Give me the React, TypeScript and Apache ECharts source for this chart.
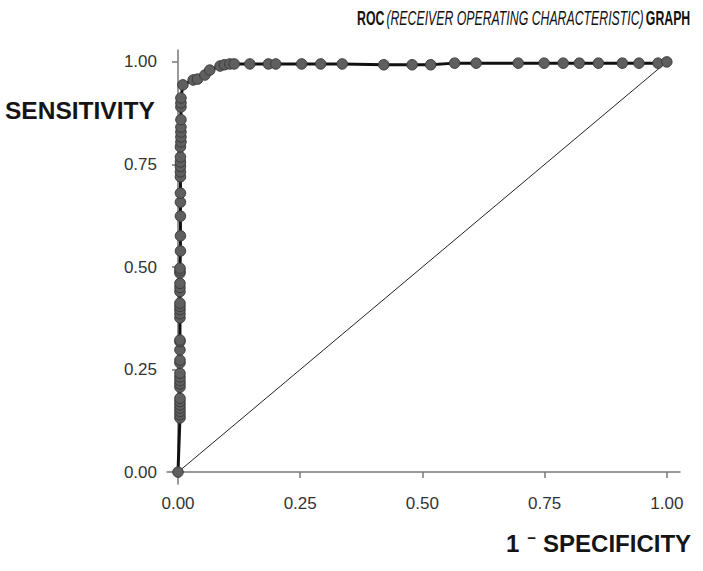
import React, { useEffect, useRef } from "react";
import * as echarts from "echarts";

const tickValues = [0, 0.25, 0.5, 0.75, 1];

const fpr = [
  0, 0.004, 0.004, 0.004, 0.004, 0.004, 0.004, 0.004, 0.004, 0.004, 0.004, 0.004, 0.004,
  0.004, 0.004, 0.004, 0.004, 0.004, 0.004, 0.004, 0.004, 0.004, 0.004, 0.004, 0.004,
  0.004, 0.004, 0.004, 0.004, 0.005, 0.005, 0.005, 0.005, 0.005, 0.005, 0.005, 0.005,
  0.005, 0.005, 0.005, 0.006, 0.006, 0.006, 0.006, 0.006, 0.006, 0.006, 0.006, 0.01,
  0.031, 0.04, 0.055, 0.065, 0.086, 0.095, 0.106, 0.115, 0.147, 0.185, 0.2, 0.253,
  0.292, 0.336, 0.421, 0.479, 0.517, 0.566, 0.61, 0.696, 0.749, 0.788, 0.821, 0.86,
  0.909, 0.943, 0.982, 1.0,
];
const tpr = [
  0, 0.132, 0.14, 0.148, 0.156, 0.164, 0.172, 0.18, 0.207, 0.215, 0.223, 0.232, 0.241,
  0.266, 0.273, 0.298, 0.318, 0.322, 0.376, 0.386, 0.396, 0.404, 0.412, 0.44, 0.45,
  0.46, 0.485, 0.491, 0.497, 0.539, 0.576, 0.624, 0.658, 0.68, 0.72, 0.732, 0.745,
  0.756, 0.768, 0.793, 0.805, 0.817, 0.829, 0.841, 0.859, 0.89, 0.9, 0.912, 0.944,
  0.956, 0.958, 0.968, 0.98, 0.99, 0.993, 0.995, 0.995, 0.995, 0.995, 0.995, 0.995,
  0.995, 0.995, 0.993, 0.993, 0.993, 0.997, 0.997, 0.997, 0.997, 0.997, 0.997, 0.997,
  0.997, 0.997, 0.997, 1.0,
];
const diagonal = [
  [0, 0],
  [1, 1],
];

export default function App() {
  const ref = useRef<HTMLDivElement>(null);
  useEffect(() => {
    document.body.style.margin = "0";
    if (!ref.current) return;
    const chart = echarts.init(ref.current, null, { renderer: "svg" });
    const font = "'Liberation Sans', Arial, sans-serif";
    const axisCommon = {
      type: "value" as const,
      splitLine: { show: false },
      axisLine: { show: true, lineStyle: { color: "#777", width: 1.5 } },
      axisTick: {
        show: true,
        length: 6,
        lineStyle: { color: "#777", width: 1.5 },
        customValues: tickValues,
      },
      axisLabel: {
        customValues: tickValues,
        color: "#333",
        fontSize: 17,
        fontFamily: font,
        formatter: (v: number) => v.toFixed(2),
      },
    };
    chart.setOption({
      animation: false,
      backgroundColor: "#fff",
      grid: { left: 167, right: 23, top: 50, bottom: 87 },
      xAxis: { ...axisCommon, min: -0.0225, max: 1.027, axisLabel: { ...axisCommon.axisLabel, margin: 11 } },
      yAxis: { ...axisCommon, min: -0.029, max: 1.029, axisLabel: { ...axisCommon.axisLabel, margin: 10 } },
      series: [
        {
          type: "line",
          data: diagonal,
          symbol: "none",
          lineStyle: { color: "#222", width: 1 },
          z: 1,
        },
        {
          type: "line",
          data: fpr.map((x, i) => [x, tpr[i]]),
          symbol: "circle",
          symbolSize: 10.5,
          itemStyle: { color: "#5f5f5f", borderColor: "#3a3a3a", borderWidth: 1 },
          lineStyle: { color: "#111", width: 3 },
          z: 2,
        },
      ],
      graphic: [
        {
          type: "text",
          x: 357,
          y: 8,
          scaleX: 0.615,
          style: {
            text: "{b|ROC} {i|(RECEIVER OPERATING CHARACTERISTIC)} {b|GRAPH}",
            rich: {
              b: { fontSize: 20, fontWeight: "bold", fontFamily: font, fill: "#111" },
              i: { fontSize: 20, fontStyle: "italic", fontFamily: font, fill: "#111" },
            },
          },
        },
        {
          type: "text",
          x: 5,
          y: 98,
          style: {
            text: "SENSITIVITY",
            fontSize: 24.5,
            fontWeight: "bold",
            fontFamily: font,
            fill: "#151515",
          },
        },
        {
          type: "text",
          x: 506,
          y: 530,
          style: {
            text: "{n|1}{m|−}{n|SPECIFICITY}",
            rich: {
              n: { fontSize: 24, fontWeight: "bold", fontFamily: font, fill: "#151515" },
              m: {
                fontSize: 15,
                fontWeight: "bold",
                fontFamily: font,
                fill: "#151515",
                padding: [0, 7, 11, 8],
              },
            },
          },
        },
      ],
    });
    return () => chart.dispose();
  }, []);
  return <div ref={ref} style={{ width: 703, height: 571 }} />;
}
